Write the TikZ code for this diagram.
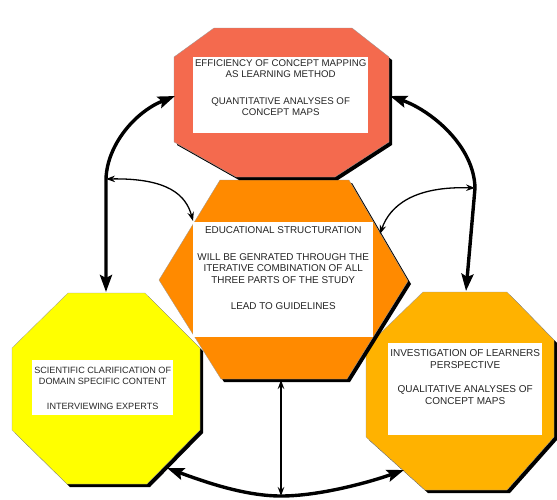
\documentclass[tikz,border=0pt]{standalone}
\usepackage{fontspec}
\setmainfont{Liberation Sans}
\usepackage{tikz}
\usetikzlibrary{positioning,arrows.meta}
\usepackage{xcolor}
\definecolor{effred}{HTML}{F46A4E}
\definecolor{eduorange}{HTML}{FF8A00}
\definecolor{sciyellow}{HTML}{FFFF00}
\definecolor{invorange}{HTML}{FFB200}
\newcommand{\capsize}[1]{\fontsize{#1}{11.5}\selectfont}
\tikzstyle{panel}=[draw=black!40, line width=0.3pt,
preaction={fill=black, transform canvas={xshift=3pt, yshift=-3pt}}]
\tikzstyle{whitebox}=[rectangle, fill=white, inner sep=0pt, anchor=north west]
\tikzstyle{caption}=[align=center, inner sep=0pt, text=black!85]
\tikzstyle{link}=[line width=3.4pt,
{Stealth[length=17pt, width=12pt, inset=3pt]}-{Stealth[length=17pt, width=12pt, inset=3pt]}]
\tikzstyle{thinlink}=[line width=1.3pt,
{Stealth[length=9pt, width=6.5pt]}-{Stealth[length=9pt, width=6.5pt]}]

\begin{document}
\begin{tikzpicture}[x=1pt, y=-1pt]
    \useasboundingbox (0,0) rectangle (557,499);

    % the four parts of the study
    \filldraw[panel, fill=invorange] (423,292) -- (507,292) -- (554,340) -- (554,437)
        -- (507,490) -- (425,490) -- (366,437) -- (366,347) -- cycle;
    \filldraw[panel, fill=eduorange] (220,180) -- (349,180) -- (408,281) -- (347,379)
        -- (221,379) -- (159,280) -- cycle;
    \filldraw[panel, fill=sciyellow] (68,293) -- (145,293) -- (200,348) -- (200,430)
        -- (147,484) -- (67,484) -- (12,430) -- (12,348) -- cycle;
    \filldraw[panel, fill=effred] (214,28) -- (352,28) -- (389,57) -- (389,142)
        -- (335,177) -- (236,177) -- (174,142) -- (174,57) -- cycle;

    \node (eff)[whitebox, minimum width=175pt, minimum height=76pt] at (193,57) {};
    \node (edu)[whitebox, minimum width=180pt, minimum height=115pt] at (193,222) {};
    \node (sci)[whitebox, minimum width=141pt, minimum height=55pt] at (32,360) {};
    \node (inv)[whitebox, minimum width=154pt, minimum height=92pt] at (388,343) {};

    \node (eff-text)[caption, font=\capsize{9.7}, below=2.5pt of eff.north]
        {EFFICIENCY OF CONCEPT MAPPING\\ AS LEARNING METHOD\\[15pt]
         QUANTITATIVE ANALYSES OF\\ CONCEPT MAPS};
    \node (edu-text)[caption, font=\capsize{9.9}, below=4.5pt of edu.north]
        {EDUCATIONAL STRUCTURATION\\[15pt]
         WILL BE GENRATED THROUGH THE\\ ITERATIVE COMBINATION OF ALL\\
         THREE PARTS OF THE STUDY\\[15pt]
         LEAD TO GUIDELINES};
    \node (sci-text)[caption, font=\capsize{9.1}, below=6.5pt of sci.north]
        {SCIENTIFIC CLARIFICATION OF\\ DOMAIN SPECIFIC CONTENT\\[13pt]
         INTERVIEWING EXPERTS};
    \node (inv-text)[caption, font=\capsize{10}, below=6.5pt of inv.north]
        {INVESTIGATION OF LEARNERS\\ PERSPECTIVE\\[13pt]
         QUALITATIVE ANALYSES OF\\ CONCEPT MAPS};

    % arrows
    \coordinate (eff-west) at (175,96);
    \coordinate (eff-east) at (390,96);
    \coordinate (sci-north) at (106,292);
    \coordinate (inv-north) at (466,291);
    \coordinate (fork-left) at (106,179);
    \coordinate (fork-right) at (475,188);
    \coordinate (edu-left) at (193,221);
    \coordinate (edu-right) at (380,234);
    \coordinate (edu-south) at (281,380);
    \coordinate (base) at (281,496);
    \coordinate (sci-corner) at (167,468);
    \coordinate (inv-corner) at (404,470);

    \draw[link] (eff-west) .. controls (135,112) and (107,145) .. (fork-left) -- (sci-north);
    \draw[link] (eff-east) .. controls (430,110) and (474,145) .. (fork-right) -- (inv-north);
    \draw[thinlink] (fork-left) .. controls (168,178) and (186,195) .. (edu-left);
    \draw[thinlink] (fork-right) .. controls (415,186) and (390,205) .. (edu-right);
    \draw[thinlink] (edu-south) -- (base);
    \draw[link] (sci-corner) .. controls (205,482) and (245,496) .. (base)
        .. controls (320,496) and (370,482) .. (inv-corner);
\end{tikzpicture}
\end{document}
